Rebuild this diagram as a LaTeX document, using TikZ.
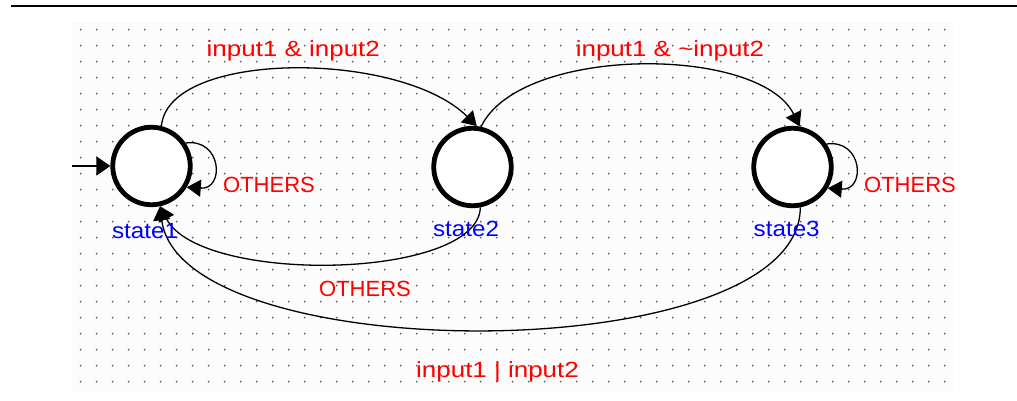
\documentclass[tikz,border=0pt]{standalone}
\usepackage{fontspec}
\setmainfont{Liberation Sans}
\newfontfamily\widefont[FakeStretch=1.18]{Liberation Sans}
\newfontfamily\midfont[FakeStretch=1.1]{Liberation Sans}
\usetikzlibrary{arrows.meta}
\definecolor{fsmred}{RGB}{255,0,0}
\definecolor{fsmblue}{RGB}{0,0,255}
\definecolor{dotgray}{RGB}{95,95,95}
\definecolor{canvasbg}{RGB}{252,252,252}
\begin{document}
\begin{tikzpicture}[x=1pt,y=-1pt,
  statenode/.style={circle,draw=black,line width=4.8pt,minimum size=77.5pt,inner sep=0pt,fill=white},
  conn/.style={draw=black,line width=1.3pt,-{Triangle[length=14pt,width=17pt]}},
  condlabel/.style={text=fsmred,font=\widefont\fontsize{22}{24}\selectfont,anchor=base,inner sep=0pt},
  otherslabel/.style={text=fsmred,font=\fontsize{22}{24}\selectfont,anchor=base,inner sep=0pt},
  namelabel/.style={text=fsmblue,font=\midfont\fontsize{22}{24}\selectfont,anchor=base,inner sep=0pt}]
\useasboundingbox (0,0) rectangle (1017,401);
% top rule
\draw[line width=2.3pt] (11,6) -- (1017,6);
% canvas area with dotted grid
\fill[canvasbg] (72,22) rectangle (953,392);
\foreach \i in {0,...,54} {
  \foreach \j in {0,...,22} {
    \fill[dotgray] (80.7+16*\i, 29.7+16*\j) circle (1pt);
  }
}
% states
\node[statenode] (s1) at (151.5,166) {};
\node[statenode] (s2) at (472.5,167) {};
\node[statenode] (s3) at (792.5,167) {};
% initial arrow
\coordinate (init) at (72,166);
\draw[conn,-{Triangle[length=14pt,width=19pt]}] (init) -- (s1.west);
% self loops
\draw[conn] (s1.34) .. controls (222,138) and (225,190) .. (s1.-31);
\draw[conn] (s3.34) .. controls (863,139) and (866,191) .. (s3.-31);
% s1 -> s2
\draw[conn] (s1.76) .. controls (168,50) and (400,50) .. (s2.84);
% s2 -> s3
\draw[conn] (s2.78) .. controls (520,45) and (760,45) .. (s3.80);
% s2 -> s1 OTHERS
\draw[conn] (s2.-79) .. controls (478,280) and (200,285) .. (s1.-78);
% s3 -> s1
\draw[conn] (s3.-79) .. controls (800,370) and (180,370) .. (s1.-78);
% labels
\node[condlabel] (l12) at (293.3,56.5) {input1 \& input2};
\node[condlabel] (l23) at (670,56.5) {input1 \& \char`\~input2};
\node[otherslabel] (o1) at (269,192.7) {OTHERS};
\node[otherslabel] (o3) at (910,192.7) {OTHERS};
\node[otherslabel] (o21) at (365,296.7) {OTHERS};
\node[condlabel] (l31) at (497.5,377.7) {input1 | input2};
\node[namelabel] (n1) at (145,238) {state1};
\node[namelabel] (n2) at (466,236.7) {state2};
\node[namelabel] (n3) at (786.7,236.7) {state3};
\end{tikzpicture}
\end{document}
